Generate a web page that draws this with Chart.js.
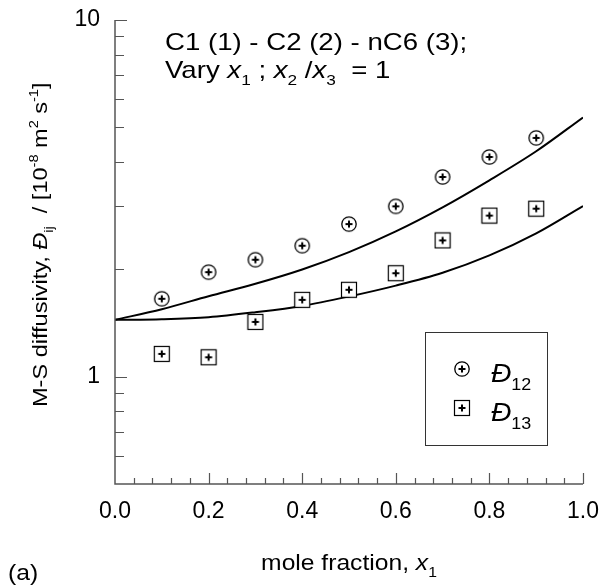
<!DOCTYPE html>
<html lang="en">
<head>
<meta charset="UTF-8">
<title>M-S diffusivity, C1 - C2 - nC6</title>
<style>
  body { margin: 0; background: #fff; }
  #chart { display: block; }
</style>
</head>
<body>
<canvas id="chart" width="606" height="585"></canvas>
<script src="https://cdn.jsdelivr.net/npm/chart.js@4"></script>
<script>
// simulated points, x1 = 0.1 ... 0.9
const xPts = [0.1, 0.2, 0.3, 0.4, 0.5, 0.6, 0.7, 0.8, 0.9];
const d12Pts = [1.653, 1.963, 2.127, 2.329, 2.678, 3.003, 3.63, 4.13, 4.67];
const d13Pts = [1.158, 1.133, 1.424, 1.642, 1.752, 1.95, 2.41, 2.828, 2.958];

// model curves
const xCurve = [0.0, 0.1, 0.2, 0.3, 0.4, 0.5, 0.6, 0.7, 0.8, 0.9, 1.0];
const d12Curve = [1.443, 1.546, 1.681, 1.822, 1.998, 2.235, 2.555, 2.984, 3.553, 4.285, 5.33];
const d13Curve = [1.443, 1.449, 1.468, 1.516, 1.579, 1.678, 1.80, 1.956, 2.188, 2.522, 3.008];

const yLabelled = [1, 10];
const yMinor = [0.6, 0.7, 0.8, 0.9, 2, 3, 4, 5, 6, 7, 8, 9];

const FONT = '"Liberation Sans", Arial, sans-serif';
const SX = 1.12; // text is drawn slightly wide

function pairs(xs, ys) {
  return xs.map((x, i) => ({ x: x, y: ys[i] }));
}

// circle / square with a plus inside
function makeMarker(shape) {
  const c = document.createElement('canvas');
  c.width = 18; c.height = 18;
  const g = c.getContext('2d');
  g.fillStyle = '#fff';
  g.strokeStyle = '#000';
  if (shape === 'circle') {
    g.lineWidth = 1.3;
    g.beginPath(); g.arc(9, 9, 7.2, 0, Math.PI * 2); g.fill(); g.stroke();
  } else {
    g.lineWidth = 1.2;
    g.fillRect(1.5, 1.5, 15, 15); g.strokeRect(1.5, 1.5, 15, 15);
  }
  g.lineWidth = 2;
  g.beginPath();
  g.moveTo(9, 5.5); g.lineTo(9, 12.5);
  g.moveTo(5.5, 9); g.lineTo(12.5, 9);
  g.stroke();
  return c;
}
const circleMark = makeMarker('circle');
const squareMark = makeMarker('square');

// runs: [text, kind] with kind n / i / sub / sup
function fontFor(k, size) {
  const fs = (k === 'sub' || k === 'sup') ? Math.round(size * 0.62) : size;
  return (k === 'i' ? 'italic ' : '') + fs + 'px ' + FONT;
}
function runsWidth(ctx, runs, size) {
  let w = 0;
  for (const [t, k] of runs) {
    ctx.font = fontFor(k, size);
    w += ctx.measureText(t).width;
  }
  return w;
}
function drawRuns(ctx, runs, x, y, size, sx) {
  ctx.save();
  ctx.translate(x, y);
  ctx.scale(sx || SX, 1);
  let cx = 0;
  for (const [t, k] of runs) {
    ctx.font = fontFor(k, size);
    let dy = 0;
    if (k === 'sub') dy = size * 0.3;
    if (k === 'sup') dy = -size * 0.42;
    ctx.fillText(t, cx, dy);
    cx += ctx.measureText(t).width;
  }
  ctx.restore();
}

const decorations = {
  id: 'decorations',
  afterDraw(chart) {
    const { ctx, chartArea: a, scales } = chart;
    const xs = scales.x, ys = scales.y;
    ctx.save();

    // axes with inward ticks
    ctx.strokeStyle = '#555';
    ctx.lineWidth = 1.5;
    ctx.beginPath();
    ctx.moveTo(a.left, a.top);
    ctx.lineTo(a.left, a.bottom);
    ctx.lineTo(a.right, a.bottom);
    ctx.stroke();

    ctx.lineWidth = 1.2;
    ctx.beginPath();
    for (let k = 1; k <= 25; k++) {
      const px = Math.round(xs.getPixelForValue(k * 0.04)) + 0.5;
      const len = k % 5 === 0 ? 11 : 6;
      ctx.moveTo(px, a.bottom);
      ctx.lineTo(px, a.bottom - len);
    }
    yLabelled.concat(yMinor).forEach(v => {
      const py = Math.round(ys.getPixelForValue(v)) + 0.5;
      const len = yLabelled.includes(v) ? 12 : 9;
      ctx.moveTo(a.left, py);
      ctx.lineTo(a.left + len, py);
    });
    ctx.stroke();

    ctx.fillStyle = '#000';
    ctx.textBaseline = 'alphabetic';
    ctx.textAlign = 'left';

    // system note
    drawRuns(ctx, [['C1 (1) - C2 (2) - nC6 (3);', 'n']], 165, 50, 24, 1.15);
    drawRuns(ctx, [['Vary ', 'n'], ['x', 'i'], ['1', 'sub'], [' ; ', 'n'], ['x', 'i'], ['2', 'sub'],
                   [' /', 'n'], ['x', 'i'], ['3', 'sub'], ['  = 1', 'n']], 165, 78, 24, 1.15);

    // x title
    const xt = [['mole fraction, ', 'n'], ['x', 'i'], ['1', 'sub']];
    const xw = runsWidth(ctx, xt, 22) * SX;
    drawRuns(ctx, xt, 349 - xw / 2, 570, 22);

    // panel tag
    drawRuns(ctx, [['(a)', 'n']], 8, 580, 22);

    // y title, rotated
    ctx.save();
    ctx.translate(47, 407);
    ctx.rotate(-Math.PI / 2);
    drawRuns(ctx, [['M-S diffusivity, ', 'n'], ['\u0110', 'i'], ['ij', 'sub'], ['  / [10', 'n'], ['-8', 'sup'],
                   [' m', 'n'], ['2', 'sup'], [' s', 'n'], ['-1', 'sup'], [']', 'n']], 0, 0, 21);
    ctx.restore();

    // legend
    ctx.strokeStyle = '#333';
    ctx.lineWidth = 1;
    ctx.strokeRect(425.5, 332.5, 122, 113);
    ctx.drawImage(circleMark, 462 - 9, 369 - 9);
    ctx.drawImage(squareMark, 462 - 9, 408 - 9);
    drawRuns(ctx, [['\u0110', 'i'], ['12', 'sub']], 491, 382, 25);
    drawRuns(ctx, [['\u0110', 'i'], ['13', 'sub']], 491, 421, 25);

    ctx.restore();
  }
};

new Chart(document.getElementById('chart'), {
  type: 'scatter',
  data: {
    datasets: [
      {
        data: pairs(xCurve, d12Curve), showLine: true, borderColor: '#000', borderWidth: 2,
        pointRadius: 0, cubicInterpolationMode: 'monotone', order: 3
      },
      {
        data: pairs(xCurve, d13Curve), showLine: true, borderColor: '#000', borderWidth: 2,
        pointRadius: 0, cubicInterpolationMode: 'monotone', order: 3
      },
      { data: pairs(xPts, d12Pts), showLine: false, pointStyle: circleMark, pointRadius: 8, order: 1 },
      { data: pairs(xPts, d13Pts), showLine: false, pointStyle: squareMark, pointRadius: 8, order: 1 }
    ]
  },
  options: {
    responsive: false,
    animation: false,
    events: [],
    layout: { padding: { top: 20, right: 23, bottom: 0, left: 0 } },
    plugins: { legend: { display: false }, tooltip: { enabled: false } },
    scales: {
      x: {
        type: 'linear', min: 0, max: 1,
        grid: { display: false, drawTicks: false },
        border: { display: false },
        ticks: {
          stepSize: 0.2, maxRotation: 0, autoSkip: false, padding: 14, color: '#000',
          font: { family: FONT, size: 23 },
          callback: v => v.toFixed(1)
        },
        afterFit: s => {
          s.height = 101;
          s.paddingLeft = 0; s.paddingRight = 0;
        }
      },
      y: {
        type: 'logarithmic', min: 0.5, max: 10,
        grid: { display: false, drawTicks: false },
        border: { display: false },
        ticks: {
          autoSkip: false, padding: 15, color: '#000',
          font: { family: FONT, size: 23 },
          callback: v => yLabelled.some(t => Math.abs(t - v) < 1e-9) ? String(v) : ''
        },
        afterFit: s => {
          s.width = 115;
          s.paddingTop = 0; s.paddingBottom = 0;
        }
      }
    }
  },
  plugins: [decorations]
});
</script>
</body>
</html>
